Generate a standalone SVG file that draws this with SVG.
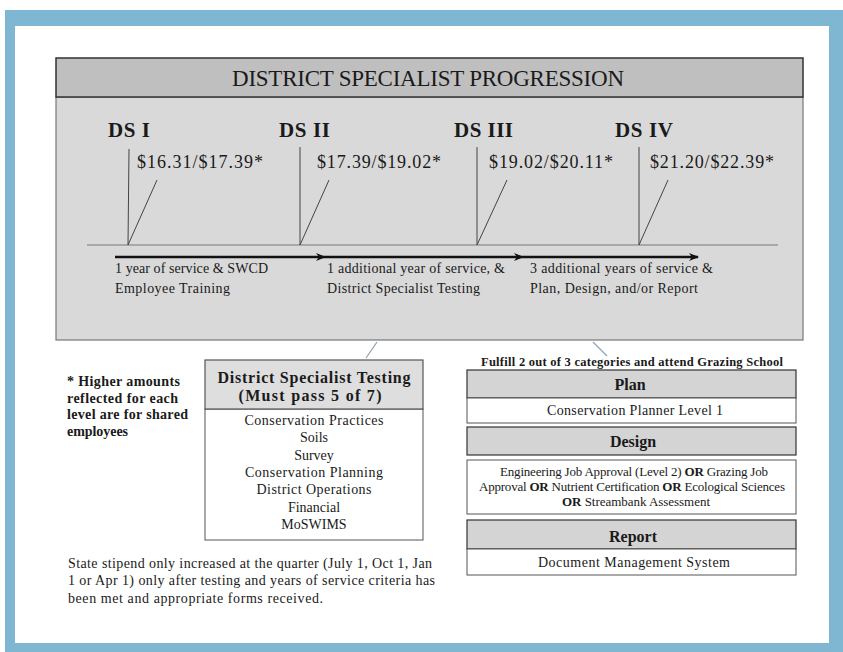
<svg xmlns="http://www.w3.org/2000/svg" width="843" height="652" viewBox="0 0 843 652">
<defs>
<marker id="ah" markerWidth="10" markerHeight="8" refX="9" refY="4" orient="auto" markerUnits="userSpaceOnUse">
<path d="M0,0 L10,4 L0,8 L3,4 Z" fill="#111"/>
</marker>
<style>
text{font-family:"Liberation Serif","DejaVu Serif",serif;fill:#1a1a1a}
.b{font-weight:bold}
.c{text-anchor:middle}
.ds{font-size:21px;font-weight:bold}
.pr{font-size:18px}
.tl{font-size:14px}
.li{font-size:14px;text-anchor:middle}
.hd{fill:#d4d4d4;stroke:#333;stroke-width:1.2}
.bd{fill:#fff;stroke:#555;stroke-width:1}
.vl{stroke:#444;stroke-width:1;fill:none}
.cn{stroke:#8ea3b3;stroke-width:1.2;fill:none}
</style>
</defs>
<rect x="0" y="0" width="843" height="652" fill="#fff"/>
<rect x="5" y="10" width="838" height="642" fill="#7fb7d3"/>
<rect x="15" y="26" width="814" height="617" fill="#fff"/>

<g id="progression">
<rect x="56" y="97" width="747" height="243" fill="#d9d9d9" stroke="#777" stroke-width="1.2"/>
<rect x="56" y="58" width="747" height="39" fill="#bfbfbf" stroke="#333" stroke-width="1.5"/>
<text x="232" y="86" font-size="23" textLength="392">DISTRICT SPECIALIST PROGRESSION</text>
<line x1="87" y1="245" x2="778" y2="245" stroke="#a8a8a8" stroke-width="2"/>
</g>

<g id="ds1">
<text class="ds" x="108" y="137" textLength="42">DS I</text>
<text class="pr" x="137" y="168" textLength="126">$16.31/$17.39*</text>
<path class="vl" d="M129,149 L128,245 L157,180"/>
<text class="tl" x="115" y="273" textLength="153">1 year of service &amp; SWCD</text>
<text class="tl" x="115" y="293" textLength="115">Employee Training</text>
</g>
<g id="ds2">
<text class="ds" x="279" y="137" textLength="51">DS II</text>
<text class="pr" x="317" y="168" textLength="124">$17.39/$19.02*</text>
<path class="vl" d="M300,147 L300,245 L329,180"/>
<text class="tl" x="327" y="273" textLength="178">1 additional year of service, &amp;</text>
<text class="tl" x="327" y="293" textLength="153">District Specialist Testing</text>
</g>
<g id="ds3">
<text class="ds" x="454" y="137" textLength="59">DS III</text>
<text class="pr" x="489" y="168" textLength="124">$19.02/$20.11*</text>
<path class="vl" d="M477,147 L477,245 L507,180"/>
<text class="tl" x="530" y="273" textLength="183">3 additional years of service &amp;</text>
<text class="tl" x="530" y="293" textLength="168">Plan, Design, and/or Report</text>
</g>
<g id="ds4">
<text class="ds" x="615" y="137" textLength="58">DS IV</text>
<text class="pr" x="650" y="168" textLength="124">$21.20/$22.39*</text>
<path class="vl" d="M639,147 L639,245 L668,180"/>
</g>

<g id="connectors">
<line x1="115" y1="257" x2="325" y2="257" stroke="#111" stroke-width="2.5" marker-end="url(#ah)"/>
<line x1="325" y1="257" x2="523" y2="257" stroke="#111" stroke-width="2.5" marker-end="url(#ah)"/>
<line x1="523" y1="257" x2="698" y2="257" stroke="#111" stroke-width="2.5" marker-end="url(#ah)"/>
<line class="cn" x1="377" y1="342" x2="366" y2="358"/>
<line class="cn" x1="593" y1="342" x2="607" y2="356"/>
</g>

<g id="note-shared">
<text class="b" font-size="14" x="67" y="386" textLength="113">* Higher amounts</text>
<text class="b" font-size="14" x="67" y="403" textLength="111">reflected for each</text>
<text class="b" font-size="14" x="67" y="419" textLength="121">level are for shared</text>
<text class="b" font-size="14" x="67" y="436" textLength="61">employees</text>
</g>

<g id="testing">
<rect class="bd" x="205" y="409" width="218" height="131"/>
<rect x="205" y="360" width="218" height="49" fill="#dedede" stroke="#555" stroke-width="1.2"/>
<text class="b c" font-size="16" x="314" y="383" textLength="193">District Specialist Testing</text>
<text class="b c" font-size="16" x="310" y="401" textLength="143">(Must pass 5 of 7)</text>
<text class="li" x="314" y="425" textLength="139">Conservation Practices</text>
<text class="li" x="314" y="442">Soils</text>
<text class="li" x="314" y="460">Survey</text>
<text class="li" x="314" y="477" textLength="138">Conservation Planning</text>
<text class="li" x="314" y="494" textLength="115">District Operations</text>
<text class="li" x="314" y="512">Financial</text>
<text class="li" x="314" y="529">MoSWIMS</text>
</g>

<g id="fulfill">
<text class="b c" font-size="12.5" x="632" y="366" textLength="302">Fulfill 2 out of 3 categories and attend Grazing School</text>
</g>

<g id="plan">
<rect class="hd" x="467" y="370" width="329" height="28"/>
<text class="b c" font-size="16" x="630" y="390">Plan</text>
<rect class="bd" x="467" y="398" width="329" height="25"/>
<text class="c" font-size="14" x="635" y="415" textLength="176">Conservation Planner Level 1</text>
</g>

<g id="design">
<rect class="hd" x="467" y="427" width="329" height="28"/>
<text class="b c" font-size="16" x="633" y="447">Design</text>
<rect class="bd" x="467" y="460" width="329" height="54"/>
<text class="c" font-size="13" x="634" y="476" textLength="268">Engineering Job Approval (Level 2) <tspan class="b">OR</tspan> Grazing Job</text>
<text class="c" font-size="13" x="632" y="491" textLength="306">Approval  <tspan class="b">OR</tspan> Nutrient Certification <tspan class="b">OR</tspan> Ecological Sciences</text>
<text class="c" font-size="13" x="636" y="506" textLength="148"><tspan class="b">OR</tspan> Streambank Assessment</text>
</g>

<g id="report">
<rect class="hd" x="467" y="520" width="329" height="29"/>
<text class="b c" font-size="16" x="633" y="542">Report</text>
<rect class="bd" x="467" y="549" width="329" height="26"/>
<text class="c" font-size="14" x="634" y="567" textLength="192">Document Management System</text>
</g>

<g id="note-stipend">
<text font-size="14" x="68" y="568" textLength="364">State stipend only increased at the quarter (July 1, Oct 1, Jan</text>
<text font-size="14" x="68" y="585" textLength="367">1 or Apr 1) only after testing and years of service criteria has</text>
<text font-size="14" x="68" y="603" textLength="255">been met and appropriate forms received.</text>
</g>
</svg>
